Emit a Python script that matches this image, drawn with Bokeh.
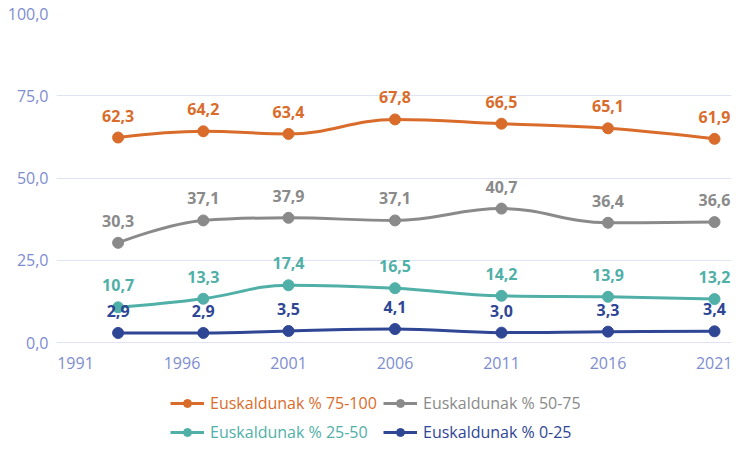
from bokeh.plotting import figure
from bokeh.models import FixedTicker, Range1d, Legend, LegendItem, ColumnDataSource
from bokeh.core.properties import value
from bokeh.embed import file_html
from bokeh.resources import INLINE

years = [1993, 1997, 2001, 2006, 2011, 2016, 2021]
series_names = ["Euskaldunak % 75-100", "Euskaldunak % 50-75",
                "Euskaldunak % 25-50", "Euskaldunak % 0-25"]
v_75_100 = [62.3, 64.2, 63.4, 67.8, 66.5, 65.1, 61.9]
v_50_75 = [30.3, 37.1, 37.9, 37.1, 40.7, 36.4, 36.6]
v_25_50 = [10.7, 13.3, 17.4, 16.5, 14.2, 13.9, 13.2]
v_0_25 = [2.9, 2.9, 3.5, 4.1, 3.0, 3.3, 3.4]
x_ticks = [1991, 1996, 2001, 2006, 2011, 2016, 2021]
x_tick_labels = ["1991", "1996", "2001", "2006", "2011", "2016", "2021"]
y_ticks = [0, 25, 50, 75, 100]
y_tick_labels = ["0,0", "25,0", "50,0", "75,0", "100,0"]

colors = ["#d96c2b", "#8a8a8a", "#50b0a8", "#2f4695"]
all_values = [v_75_100, v_50_75, v_25_50, v_0_25]

FONT = "Open Sans"
AXIS_COLOR = "#7d8dcf"

p = figure(width=732, height=442, output_backend="svg", toolbar_location=None,
           x_range=Range1d(1990.108, 2021.798), y_range=Range1d(-30.395, 100),
           min_border_left=56, min_border_right=1, min_border_top=13,
           min_border_bottom=0)
p.outline_line_color = None
p.background_fill_color = "white"
p.border_fill_color = "white"

p.xgrid.grid_line_color = None
p.ygrid.grid_line_color = "#dfe3f4"
p.ygrid.grid_line_width = 1
p.ygrid.ticker = FixedTicker(ticks=y_ticks)

p.yaxis.ticker = FixedTicker(ticks=y_ticks)
p.yaxis.major_label_overrides = {t: l for t, l in zip(y_ticks, y_tick_labels)}
p.xaxis.ticker = FixedTicker(ticks=x_ticks)
p.xaxis.major_label_overrides = {t: l for t, l in zip(x_ticks, x_tick_labels)}
p.xaxis.fixed_location = 0
for ax in (p.xaxis, p.yaxis):
    ax.axis_line_color = None
    ax.major_tick_line_color = None
    ax.minor_tick_line_color = None
    ax.major_tick_out = 0
    ax.major_tick_in = 0
    ax.minor_tick_out = 0
    ax.minor_tick_in = 0
    ax.major_label_text_color = AXIS_COLOR
    ax.major_label_text_font = FONT
    ax.major_label_text_font_size = "16px"
p.yaxis.major_label_standoff = 8
p.xaxis.major_label_standoff = 14


def spline_controls(xs, ys, smoothing=1.5):
    n = len(xs)
    left = [(xs[i], ys[i]) for i in range(n)]
    right = [(xs[i], ys[i]) for i in range(n)]
    d = smoothing + 1
    for i in range(1, n - 1):
        lx = (smoothing * xs[i] + xs[i - 1]) / d
        ly = (smoothing * ys[i] + ys[i - 1]) / d
        rx = (smoothing * xs[i] + xs[i + 1]) / d
        ry = (smoothing * ys[i] + ys[i + 1]) / d
        if rx != lx:
            corr = ((ry - ly) * (rx - xs[i])) / (rx - lx) + ys[i] - ry
            ly += corr
            ry += corr
        if ly > max(ys[i - 1], ys[i]):
            ly = max(ys[i - 1], ys[i]); ry = 2 * ys[i] - ly
        elif ly < min(ys[i - 1], ys[i]):
            ly = min(ys[i - 1], ys[i]); ry = 2 * ys[i] - ly
        if ry > max(ys[i + 1], ys[i]):
            ry = max(ys[i + 1], ys[i]); ly = 2 * ys[i] - ry
        elif ry < min(ys[i + 1], ys[i]):
            ry = min(ys[i + 1], ys[i]); ly = 2 * ys[i] - ry
        left[i] = (lx, ly)
        right[i] = (rx, ry)
    return left, right


legend_items = []
for name, vals, col in zip(series_names, all_values, colors):
    left, right = spline_controls(years, vals)
    src = ColumnDataSource(dict(
        x0=years[:-1], y0=vals[:-1], x1=years[1:], y1=vals[1:],
        cx0=[r[0] for r in right[:-1]], cy0=[r[1] for r in right[:-1]],
        cx1=[l[0] for l in left[1:]], cy1=[l[1] for l in left[1:]]))
    b = p.bezier(x0="x0", y0="y0", x1="x1", y1="y1", cx0="cx0", cy0="cy0",
                 cx1="cx1", cy1="cy1", source=src, line_color=col, line_width=3)
    s = p.scatter(years, vals, size=11, color=col, line_color=col)
    p.text(years, vals, text=[f"{v:.1f}".replace(".", ",") for v in vals],
           text_color=col, text_font=value(FONT), text_font_size="16px",
           text_font_style="bold", text_align="center", text_baseline="middle",
           y_offset=-22)
    legend_items.append((name, [b, s], col))

positions = [(114, 28), (327, 28), (114, -1), (327, -1)]
for (name, rends, col), loc in zip(legend_items, positions):
    lg = Legend(items=[LegendItem(label=name, renderers=rends)], location=loc,
                padding=0, margin=0, spacing=0, glyph_width=34, glyph_height=20,
                label_standoff=6, label_text_color=col, label_text_font=FONT,
                label_text_font_size="16px", border_line_alpha=0,
                background_fill_alpha=0, label_height=20)
    p.add_layout(lg, "center")

open("out.html", "w").write(file_html(p, INLINE))
